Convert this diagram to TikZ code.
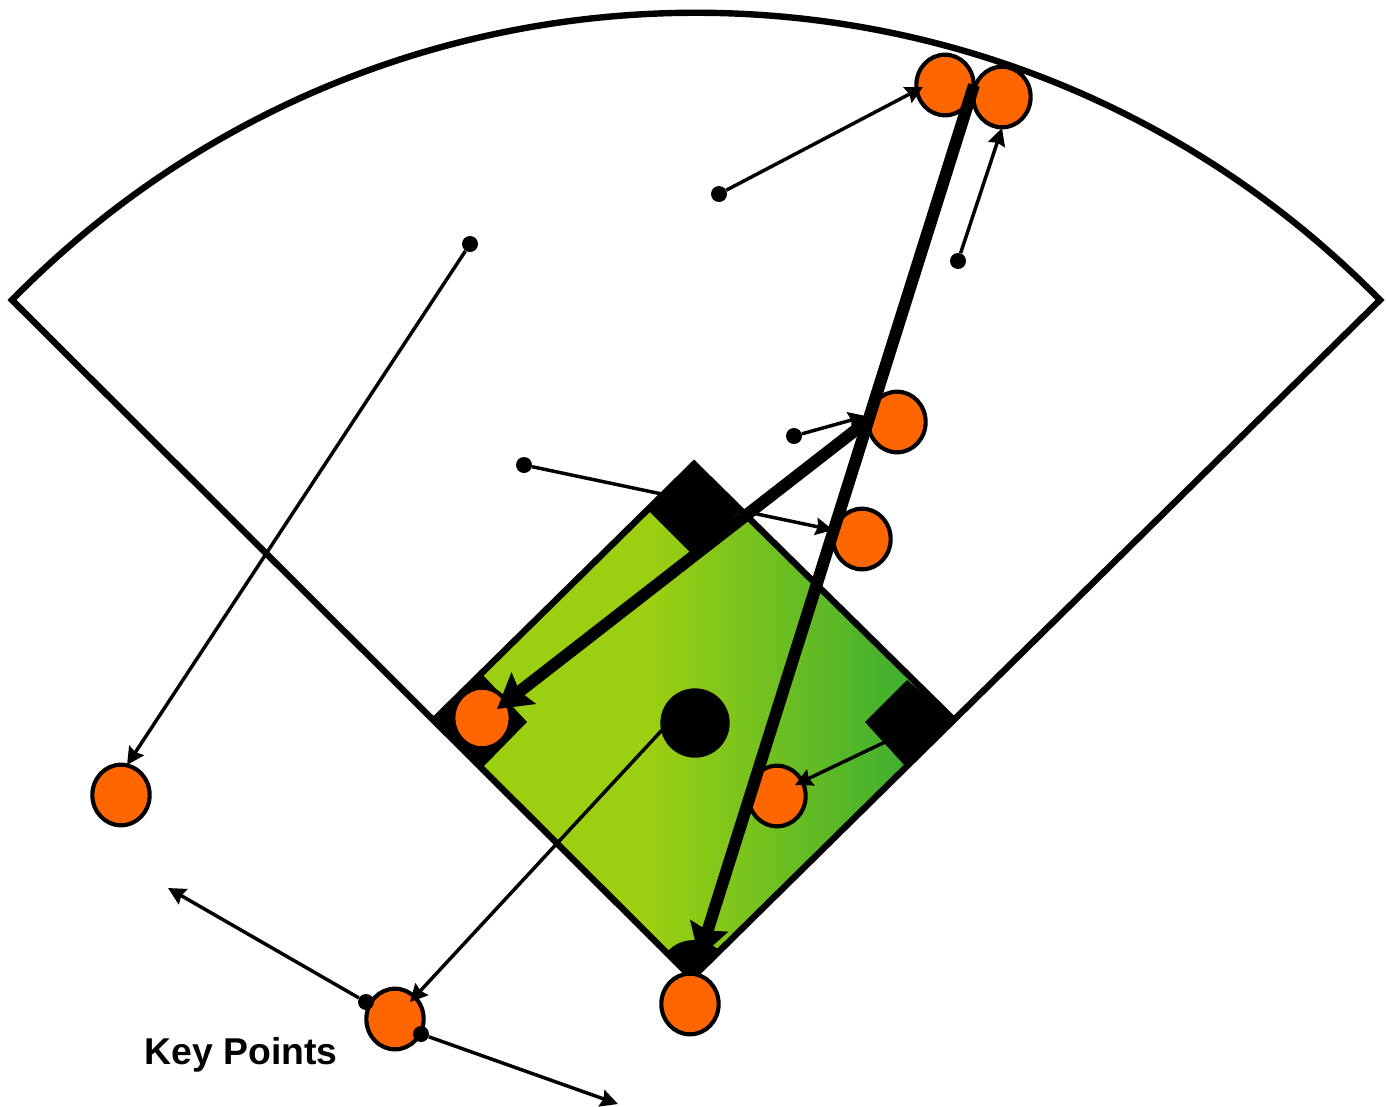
\documentclass[tikz,border=0pt]{standalone}
\usepackage{fontspec}
\setmainfont{Liberation Sans}
\usetikzlibrary{arrows.meta,shapes.geometric}
\definecolor{fieldorange}{HTML}{FF6600}
\definecolor{grassa}{HTML}{9BCF12}
\definecolor{grassb}{HTML}{36AC33}
\pgfdeclarehorizontalshading{infield}{100bp}{color(0bp)=(grassa); color(46bp)=(grassa); color(73bp)=(grassb); color(100bp)=(grassb)}
\tikzset{
  fieldline/.style={draw=black,line width=4.8pt,line join=miter},
  player/.style={draw=black,fill=fieldorange,ellipse,line width=3.1pt,minimum width=43pt,minimum height=45.5pt,inner sep=0pt},
  startdot/.style={fill=black,circle,minimum size=12pt,inner sep=0pt},
  thinarrow/.style={draw=black,line width=2.6pt,-{Stealth[length=13pt,width=13pt,inset=1.5pt]}},
  thickarrow/.style={draw=black,line width=9pt,line cap=butt,-{Stealth[length=25pt,width=29pt,inset=3.5pt]}},
  basepad/.style={fill=black}
}
\begin{document}
\begin{tikzpicture}[x=0.75pt,y=-0.75pt]
\useasboundingbox (0,0) rectangle (1386,1107);
% named points
\coordinate (fanL) at (12,300);
\coordinate (fanR) at (1380,300);
\coordinate (home) at (692,978);
\coordinate (d2) at (694,464);
\coordinate (d1) at (954,720);
\coordinate (d3) at (434,720);
\node[startdot] (dA) at (470,244) {};
\node[startdot] (dB) at (719,194) {};
\node[startdot] (dC) at (958,261) {};
\node[startdot] (dD) at (794,436) {};
\node[startdot] (dE) at (524,465) {};
\coordinate (tE) at (833,530);
% runner line passing behind second base
\draw[thinarrow] (dE) -- (tE);
% infield
\path[shading=infield] (d2) -- (d1) -- (home) -- (d3) -- cycle;
% fan
\draw[fieldline] (fanL) .. controls (388,-83) and (1004,-83) .. (fanR) -- (home) -- cycle;
\draw[fieldline] (d3) -- (d2) -- (d1);
% bases
\fill[basepad] (d2) -- (741,511) -- (691,553) -- (649,511) -- cycle;
\fill[basepad] (d3) -- (482,674) -- (527,722) -- (482,768) -- cycle;
\fill[basepad] (d1) -- (907,680) -- (865,722) -- (907,768) -- cycle;
\fill[basepad] (home) -- (667,952) .. controls (675,943) and (685,940) .. (695,940) .. controls (704,940) and (712,944) .. (720,951) -- cycle;
% pitcher
\node[fill=black,circle,minimum size=52pt,inner sep=0pt] (mound) at (695,723) {};
% players below the long throw
\node[player] (pB) at (777,796) {};
% throws
\node[player] (pF1) at (945,85) {};
\node[player] (pF2) at (1002,97) {};
\node[player] (pS) at (897,422) {};
\node[player] (pT) at (862,539) {};
\node[player] (pL) at (482,718) {};
\node[player] (pC) at (690,1004) {};
\node[player] (pG) at (121,795) {};
\node[player] (pP) at (395,1019) {};
\coordinate (thA) at (974,85);
\coordinate (thB) at (699,958);
\coordinate (thC) at (866,422);
\coordinate (thD) at (497,709);
\draw[thickarrow] (thA) -- (thB);
\draw[thickarrow] (thC) -- (thD);
% thin arrows
\coordinate (tA) at (127,765);
\coordinate (tB) at (923,87);
\coordinate (tC) at (1002,128);
\coordinate (tD) at (866,416);
\coordinate (sF) at (885,742);
\coordinate (tF) at (795,785);
\coordinate (sP) at (663,729);
\coordinate (tP) at (410,1002);
\draw[thinarrow] (dA) -- (tA);
\draw[thinarrow] (dB) -- (tB);
\draw[thinarrow] (dC) -- (tC);
\draw[thinarrow] (dD) -- (tD);
\draw[thinarrow] (sF) -- (tF);
\draw[thinarrow] (sP) -- (tP);
\node[startdot] (dF) at (366,1002) {};
\node[startdot] (dG) at (421,1034) {};
\coordinate (tG) at (168,888);
\coordinate (tH) at (618,1104);
\draw[thinarrow] (dF) -- (tG);
\draw[thinarrow] (dG) -- (tH);
\node[font=\bfseries,text=black,inner sep=0pt,anchor=center] (keytext) at (241,1055) {\fontsize{28pt}{30pt}\selectfont Key Points};
\end{tikzpicture}
\end{document}
